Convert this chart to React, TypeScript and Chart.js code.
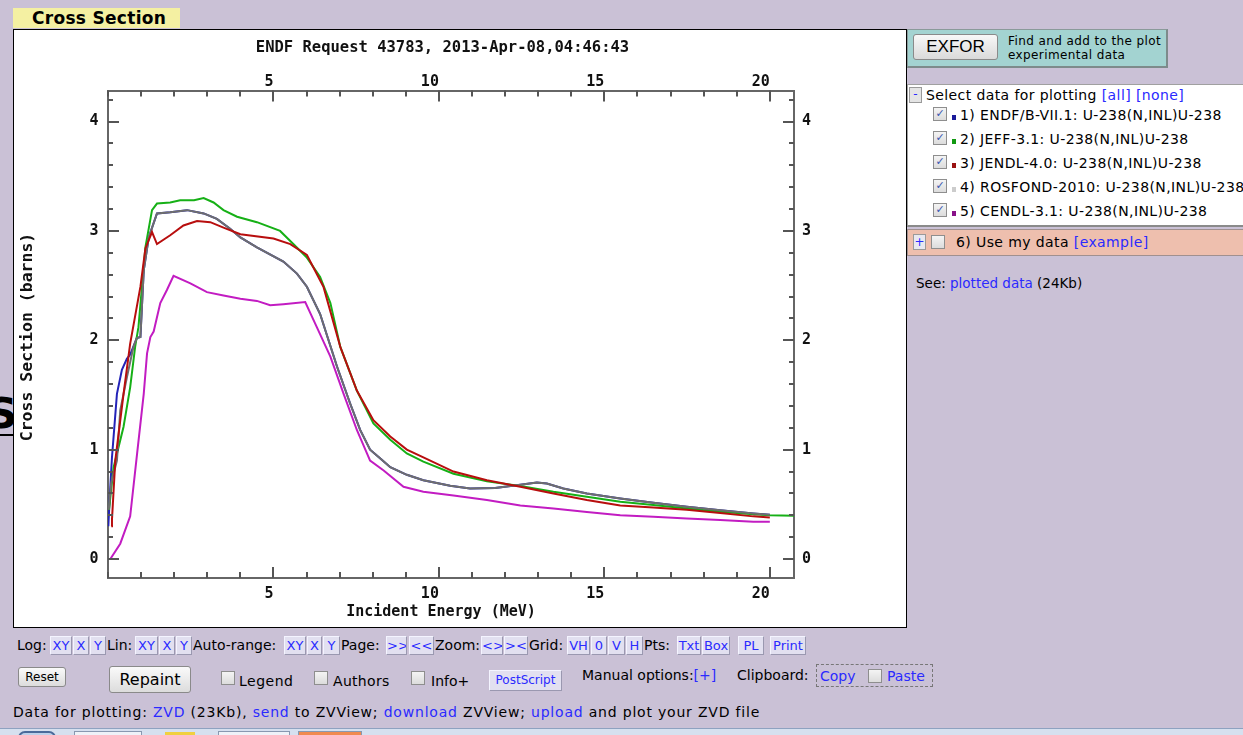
import React, { useEffect, useRef } from 'react';
import { Chart, registerables } from 'chart.js';

Chart.register(...registerables);

// ---------- data (energy in MeV, cross section in barns) ----------
const chartTitle = 'ENDF Request 43783, 2013-Apr-08,04:46:43';
const xTitle = 'Incident Energy (MeV)';
const yTitle = 'Cross Section (barns)';

const xTicks: number[] = [0, 1, 2, 3, 4, 5, 6, 7, 8, 9, 10, 11, 12, 13, 14, 15, 16, 17, 18, 19, 20];
const xLabels: number[] = [5, 10, 15, 20];
const yTicks: number[] = [0, 0.2, 0.4, 0.6, 0.8, 1, 1.2, 1.4, 1.6, 1.8, 2, 2.2, 2.4, 2.6, 2.8, 3, 3.2, 3.4, 3.6, 3.8, 4, 4.2];
const yLabels: number[] = [0, 1, 2, 3, 4];

const endfE = [0.01, 0.05, 0.12, 0.27, 0.42, 0.57, 0.67, 0.87, 0.98, 1.08, 1.23, 1.48, 1.88, 2.39, 2.89, 3.29, 3.69, 4.0, 4.5, 5.3, 5.71, 6.01, 6.41, 6.92, 7.32, 7.62, 7.92, 8.23, 8.53, 9.03, 9.53, 10.34, 10.94, 11.7, 12.46, 12.96, 13.26, 13.76, 14.47, 15.48, 16.48, 17.49, 18.5, 19.5, 20.0];
const endfXS = [0.3, 0.55, 0.93, 1.51, 1.73, 1.83, 1.87, 2.02, 2.03, 2.64, 2.94, 3.16, 3.17, 3.19, 3.16, 3.11, 3.02, 2.94, 2.85, 2.72, 2.61, 2.49, 2.24, 1.76, 1.42, 1.18, 1.0, 0.92, 0.84, 0.77, 0.72, 0.67, 0.645, 0.65, 0.68, 0.7, 0.69, 0.645, 0.6, 0.554, 0.514, 0.478, 0.447, 0.417, 0.405];

const jeffE = [0.03, 0.17, 0.47, 0.67, 0.82, 0.92, 1.13, 1.33, 1.48, 1.88, 2.18, 2.6, 2.89, 3.19, 3.49, 3.9, 4.5, 5.2, 5.6, 6.0, 6.41, 6.72, 7.02, 7.52, 8.02, 8.53, 9.03, 9.53, 10.44, 11.45, 12.46, 13.46, 14.47, 15.48, 16.48, 17.49, 18.5, 19.5, 20.0, 20.73];
const jeffXS = [0.45, 0.84, 1.21, 1.57, 1.94, 2.12, 2.85, 3.19, 3.25, 3.26, 3.28, 3.28, 3.3, 3.26, 3.19, 3.13, 3.08, 3.0, 2.88, 2.76, 2.58, 2.34, 1.94, 1.54, 1.24, 1.09, 0.965, 0.89, 0.78, 0.71, 0.667, 0.615, 0.57, 0.523, 0.493, 0.463, 0.432, 0.41, 0.4, 0.395];

const jendlE = [0.1, 0.12, 0.22, 0.47, 0.67, 0.98, 1.13, 1.33, 1.48, 1.88, 2.28, 2.69, 3.09, 3.49, 4.0, 5.0, 5.51, 6.01, 6.51, 7.02, 7.52, 8.02, 8.53, 9.03, 9.53, 10.44, 11.45, 12.46, 13.46, 14.47, 15.48, 16.48, 17.49, 18.5, 19.5, 20.0];
const jendlXS = [0.3, 0.36, 0.9, 1.51, 1.97, 2.49, 2.84, 2.99, 2.88, 2.96, 3.05, 3.09, 3.08, 3.03, 2.97, 2.93, 2.88, 2.78, 2.49, 1.94, 1.54, 1.27, 1.12, 1.0, 0.93, 0.8, 0.72, 0.66, 0.6, 0.54, 0.49, 0.47, 0.45, 0.42, 0.39, 0.38];

const rosfondE = [0.02, 0.1, 0.27, 0.37, 0.57, 0.77, 0.87, 0.98, 1.08, 1.23, 1.48, 1.88, 2.39, 2.89, 3.29, 3.69, 4.0, 4.5, 5.3, 5.71, 6.01, 6.41, 6.92, 7.32, 7.62, 7.92, 8.23, 8.53, 9.03, 9.53, 10.34, 10.94, 11.7, 12.46, 12.96, 13.26, 13.76, 14.47, 15.48, 16.48, 17.49, 18.5, 19.5, 20.0];
const rosfondXS = [0.45, 0.7, 0.9, 1.36, 1.66, 1.94, 2.02, 2.03, 2.64, 2.94, 3.16, 3.17, 3.19, 3.16, 3.11, 3.02, 2.94, 2.85, 2.72, 2.61, 2.49, 2.24, 1.76, 1.42, 1.18, 1.0, 0.92, 0.84, 0.77, 0.72, 0.67, 0.645, 0.65, 0.68, 0.7, 0.69, 0.645, 0.6, 0.554, 0.514, 0.478, 0.447, 0.417, 0.405];

const cendlE = [0.07, 0.37, 0.67, 0.88, 1.08, 1.18, 1.28, 1.38, 1.48, 1.58, 1.78, 1.98, 2.49, 2.99, 3.49, 4.0, 4.5, 4.9, 5.3, 5.96, 6.31, 6.72, 7.12, 7.52, 7.92, 8.33, 8.93, 9.53, 10.44, 11.45, 12.46, 13.46, 14.47, 15.48, 16.48, 17.49, 18.5, 19.5, 20.0];
const cendlXS = [0.0, 0.14, 0.39, 0.965, 1.51, 1.88, 2.03, 2.08, 2.21, 2.34, 2.46, 2.59, 2.52, 2.44, 2.41, 2.38, 2.36, 2.32, 2.33, 2.35, 2.12, 1.85, 1.51, 1.18, 0.9, 0.81, 0.66, 0.615, 0.58, 0.54, 0.49, 0.463, 0.43, 0.4, 0.386, 0.37, 0.356, 0.34, 0.34];

const seriesNames = [
  '1) ENDF/B-VII.1: U-238(N,INL)U-238',
  '2) JEFF-3.1: U-238(N,INL)U-238',
  '3) JENDL-4.0: U-238(N,INL)U-238',
  '4) ROSFOND-2010: U-238(N,INL)U-238',
  '5) CENDL-3.1: U-238(N,INL)U-238',
];
const swatchColors = ['#1a1a9a', '#119911', '#991111', '#cccccc', '#881188'];

const mk = (xs: number[], ys: number[]) => xs.map((x, i) => ({ x, y: ys[i] }));

const MONO = '"DejaVu Sans Mono", monospace';

const inwardTicks = {
  id: 'inwardTicks',
  afterDraw(chart: any) {
    const { ctx, chartArea: a, scales } = chart;
    ctx.save();
    ctx.strokeStyle = '#555';
    ctx.lineWidth = 2;
    ctx.beginPath();
    for (const v of xTicks) {
      const p = Math.round(scales.x.getPixelForValue(v));
      const len = xLabels.includes(v) ? 11 : 6;
      ctx.moveTo(p, a.top);
      ctx.lineTo(p, a.top + len);
      ctx.moveTo(p, a.bottom);
      ctx.lineTo(p, a.bottom - len);
    }
    for (const v of yTicks) {
      const p = Math.round(scales.y.getPixelForValue(v));
      const len = yLabels.includes(v) ? 11 : 5;
      ctx.moveTo(a.left, p);
      ctx.lineTo(a.left + len, p);
      ctx.moveTo(a.right, p);
      ctx.lineTo(a.right - len, p);
    }
    ctx.stroke();
    // axis titles
    ctx.fillStyle = '#111';
    ctx.textAlign = 'center';
    ctx.textBaseline = 'middle';
    ctx.font = 'bold 15px ' + MONO;
    ctx.fillText(xTitle, 427, 582);
    ctx.translate(14, 307);
    ctx.rotate(-Math.PI / 2);
    ctx.font = 'bold 16.5px ' + MONO;
    ctx.fillText(yTitle, 0, 0);
    ctx.restore();
  },
};

const tickFont = { family: MONO, size: 15, weight: 'bold' as const };

function makeX(position: string, h: number, pad: number) {
  return {
    type: 'linear',
    position,
    min: 0,
    max: 20.73,
    afterBuildTicks: (s: any) => {
      s.ticks = xTicks.map((value) => ({ value }));
    },
    afterFit: (s: any) => {
      s.height = h;
    },
    grid: { display: false, drawTicks: false },
    border: { display: true, color: '#666', width: 2 },
    ticks: {
      autoSkip: false,
      maxRotation: 0,
      minRotation: 0,
      align: 'end',
      padding: pad,
      color: '#111',
      font: tickFont,
      callback: (v: any) => (xLabels.includes(Number(v)) ? String(v) : ''),
    },
  };
}

function makeY(position: string, w: number, pad: number) {
  return {
    type: 'linear',
    position,
    min: -0.1735,
    max: 4.283,
    afterBuildTicks: (s: any) => {
      s.ticks = yTicks.map((value) => ({ value }));
    },
    afterFit: (s: any) => {
      s.width = w;
    },
    grid: { display: false, drawTicks: false },
    border: { display: true, color: '#666', width: 2 },
    ticks: {
      autoSkip: false,
      padding: pad,
      color: '#111',
      font: tickFont,
      callback: (v: any) => (yLabels.includes(Number(v)) ? String(v) : ''),
    },
  };
}

const LINK = '#2a2aff';

function Check({ checked, style }: { checked?: boolean; style?: any }) {
  return (
    <span
      style={{
        position: 'absolute',
        width: 12,
        height: 12,
        border: '1px solid #8e8e8e',
        background: 'linear-gradient(#f4f4f4,#dcdcdc)',
        color: '#3a55b0',
        fontSize: 11,
        lineHeight: '12px',
        textAlign: 'center',
        fontWeight: 'bold',
        ...style,
      }}
    >
      {checked ? '\u2713' : ''}
    </span>
  );
}

const abs = (left: number, top: number, extra: any = {}) => ({ position: 'absolute' as const, left, top, whiteSpace: 'nowrap' as const, ...extra });

const row1: [string, number, number, boolean][] = [
  ['Log:', 17, 0, false],
  ['XY', 50, 22, true],
  ['X', 73, 16, true],
  ['Y', 90, 16, true],
  ['Lin:', 107, 0, false],
  ['XY', 135, 23, true],
  ['X', 159, 16, true],
  ['Y', 176, 16, true],
  ['Auto-range:', 193, 0, false],
  ['XY', 284, 22, true],
  ['X', 307, 15, true],
  ['Y', 323, 17, true],
  ['Page:', 341, 0, false],
  ['>>', 386, 21, true],
  ['<<', 409, 25, true],
  ['Zoom:', 435, 0, false],
  ['<>', 481, 22, true],
  ['><', 504, 24, true],
  ['Grid:', 529, 0, false],
  ['VH', 567, 23, true],
  ['0', 591, 16, true],
  ['V', 608, 17, true],
  ['H', 626, 17, true],
  ['Pts:', 644, 0, false],
  ['Txt', 677, 24, true],
  ['Box', 702, 28, true],
  ['PL', 738, 26, true],
  ['Print', 770, 36, true],
];

const panelText = { fontSize: 14, letterSpacing: 0.4, lineHeight: '18px' };

export default function App() {
  const ref = useRef<HTMLCanvasElement>(null);

  useEffect(() => {
    const canvas = ref.current;
    if (!canvas) return;
    const chart = new Chart(canvas, {
      type: 'line',
      data: {
        datasets: [
          { label: seriesNames[0], data: mk(endfE, endfXS), borderColor: '#2323b8', order: 5 },
          { label: seriesNames[1], data: mk(jeffE, jeffXS), borderColor: '#16b016', order: 4 },
          { label: seriesNames[2], data: mk(jendlE, jendlXS), borderColor: '#b80e0e', order: 2 },
          { label: seriesNames[3], data: mk(rosfondE, rosfondXS), borderColor: '#6e6e6e', order: 3 },
          { label: seriesNames[4], data: mk(cendlE, cendlXS), borderColor: '#c21cc2', order: 1 },
        ],
      },
      options: {
        animation: false,
        responsive: false,
        devicePixelRatio: 1,
        layout: { padding: { left: 0, right: 35, top: 0, bottom: 0 } },
        elements: {
          point: { radius: 0 },
          line: { borderWidth: 2, tension: 0, fill: false },
        },
        plugins: {
          legend: { display: false },
          tooltip: { enabled: false },
          title: {
            display: true,
            text: chartTitle,
            color: '#111',
            font: { family: MONO, size: 15.5, weight: 'bold' },
            padding: { top: 9, bottom: 0 },
          },
        },
        scales: {
          x: makeX('bottom', 49, 7),
          x2: makeX('top', 33, -1),
          y: makeY('left', 94, 9.5),
          y2: makeY('right', 77, 8),
        } as any,
      },
      plugins: [inwardTicks],
    } as any);
    return () => chart.destroy();
  }, []);

  return (
    <div
      style={{
        position: 'fixed',
        left: 0,
        top: 0,
        width: 1243,
        height: 735,
        overflow: 'hidden',
        background: '#cac1d6',
        fontFamily: '"DejaVu Sans", Verdana, sans-serif',
        fontSize: 13,
        color: '#000',
      }}
    >
      {/* tab */}
      <div style={abs(13, 8, { width: 167, height: 20, background: '#f4f0a2' })}>
        <span style={abs(19, 0, { fontWeight: 'bold', fontSize: 17, letterSpacing: 0.3, lineHeight: '21px' })}>Cross Section</span>
      </div>

      {/* left artifact */}
      <div style={abs(-13, 392, { fontSize: 42, fontWeight: 'bold', lineHeight: '44px' })}>S</div>
      <div style={abs(0, 434, { width: 13, height: 2, background: '#000' })} />

      {/* chart box */}
      <div style={abs(13, 29, { width: 892, height: 597, border: '1px solid #000', background: '#fff' })}>
        <canvas ref={ref} width={892} height={597} style={{ display: 'block', width: 892, height: 597 }} />
      </div>

      {/* EXFOR box */}
      <div
        style={abs(907, 29, {
          width: 258,
          height: 36,
          background: '#a3d3d1',
          borderTop: '1px solid #8a9a9a',
          borderLeft: '1px solid #8a9a9a',
          borderRight: '2px solid #7d8b8b',
          borderBottom: '2px solid #7d8b8b',
        })}
      >
        <div
          style={abs(5, 4, {
            width: 85,
            height: 26,
            boxSizing: 'border-box',
            border: '1px solid #8a8a8a',
            borderRadius: 3,
            background: 'linear-gradient(#f8f8f8,#dadada)',
            fontFamily: '"Liberation Sans", Arial, sans-serif',
            fontSize: 17,
            lineHeight: '24px',
            textAlign: 'center',
          })}
        >
          EXFOR
        </div>
        <div style={abs(100, 4, { fontSize: 12, letterSpacing: 0.4, lineHeight: '14px' })}>
          Find and add to the plot
          <br />
          experimental data
        </div>
      </div>

      {/* select panel */}
      <div
        style={abs(907, 84, {
          width: 336,
          height: 140,
          background: '#fff',
          borderTop: '1px solid #a0a0a0',
          borderLeft: '1px solid #a0a0a0',
          borderBottom: '2px solid #8a8a8a',
        })}
      >
        <div
          style={abs(1, 2, {
            width: 11,
            height: 14,
            border: '1px solid #9a9a9a',
            background: '#e4e4e4',
            color: LINK,
            fontSize: 12,
            lineHeight: '13px',
            textAlign: 'center',
          })}
        >
          -
        </div>
        <div style={abs(18, 1, panelText)}>
          Select data for plotting <span style={{ color: LINK }}>[all]</span> <span style={{ color: LINK }}>[none]</span>
        </div>
        {seriesNames.map((n, i) => (
          <React.Fragment key={n}>
            <Check checked style={{ left: 25, top: 22 + i * 24 }} />
            <span style={abs(44, 30 + i * 24, { width: 4, height: 5, background: swatchColors[i] })} />
            <span style={abs(52, 21 + i * 24, panelText)}>{n}</span>
          </React.Fragment>
        ))}
      </div>

      {/* use my data row */}
      <div
        style={abs(907, 229, {
          width: 336,
          height: 25,
          background: '#eebfae',
          borderTop: '1px solid #a09090',
          borderLeft: '1px solid #a09090',
          borderBottom: '1px solid #a09090',
        })}
      >
        <div
          style={abs(5, 4, {
            width: 11,
            height: 14,
            border: '1px solid #9a9a9a',
            background: '#e8e8f0',
            color: LINK,
            fontSize: 12,
            lineHeight: '14px',
            textAlign: 'center',
          })}
        >
          +
        </div>
        <Check style={{ left: 23, top: 5 }} />
        <span style={abs(48, 3, panelText)}>
          6) Use my data <span style={{ color: LINK }}>[example]</span>
        </span>
      </div>

      <div style={abs(916, 274, { fontSize: 13.5, lineHeight: '18px' })}>
        See: <span style={{ color: LINK }}>plotted data</span> (24Kb)
      </div>

      {/* control row 1 */}
      {row1.map(([t, x, w, btn], i) =>
        btn ? (
          <div
            key={i}
            style={abs(x, 636, {
              width: w,
              height: 19,
              boxSizing: 'border-box',
              background: '#e2e0f0',
              borderTop: '1px solid #f4f4ff',
              borderLeft: '1px solid #f4f4ff',
              borderRight: '1px solid #9a98b0',
              borderBottom: '1px solid #9a98b0',
              color: LINK,
              fontSize: 13,
              lineHeight: '17px',
              textAlign: 'center',
              overflow: 'hidden',
            })}
          >
            {t}
          </div>
        ) : (
          <div key={i} style={abs(x, 636, { fontSize: 14, lineHeight: '19px' })}>
            {t}
          </div>
        )
      )}

      {/* control row 2 */}
      <div
        style={abs(18, 667, {
          width: 48,
          height: 20,
          boxSizing: 'border-box',
          border: '1px solid #8a8a8a',
          borderRadius: 3,
          background: 'linear-gradient(#fafafa,#dcdcdc)',
          fontSize: 12,
          lineHeight: '18px',
          textAlign: 'center',
        })}
      >
        Reset
      </div>
      <div
        style={abs(109, 666, {
          width: 82,
          height: 27,
          boxSizing: 'border-box',
          border: '1px solid #8a8a8a',
          borderRadius: 3,
          background: 'linear-gradient(#fafafa,#dcdcdc)',
          fontSize: 16,
          lineHeight: '25px',
          textAlign: 'center',
        })}
      >
        Repaint
      </div>
      <Check style={{ left: 221, top: 671 }} />
      <span style={abs(239, 672, { fontSize: 14, letterSpacing: 0.5, lineHeight: '18px' })}>Legend</span>
      <Check style={{ left: 314, top: 671 }} />
      <span style={abs(333, 672, { fontSize: 14, letterSpacing: 0.3, lineHeight: '18px' })}>Authors</span>
      <Check style={{ left: 411, top: 671 }} />
      <span style={abs(431, 672, { fontSize: 14, lineHeight: '18px' })}>Info+</span>
      <div
        style={abs(489, 670, {
          width: 73,
          height: 21,
          boxSizing: 'border-box',
          background: '#e2e0f0',
          borderTop: '1px solid #f4f4ff',
          borderLeft: '1px solid #f4f4ff',
          borderRight: '1px solid #9a98b0',
          borderBottom: '1px solid #9a98b0',
          color: LINK,
          fontSize: 12,
          lineHeight: '19px',
          textAlign: 'center',
        })}
      >
        PostScript
      </div>
      <span style={abs(582, 666, { fontSize: 14, lineHeight: '18px' })}>
        Manual options:<span style={{ color: LINK }}>[+]</span>
      </span>
      <span style={abs(737, 666, { fontSize: 14, lineHeight: '18px' })}>Clipboard:</span>
      <div style={abs(816, 664, { width: 115, height: 21, border: '1px dashed #777' })}>
        <span style={abs(3, 2, { fontSize: 14, lineHeight: '18px', color: LINK })}>Copy</span>
        <Check style={{ left: 51, top: 4 }} />
        <span style={abs(70, 2, { fontSize: 14, lineHeight: '18px', color: LINK })}>Paste</span>
      </div>

      {/* row 3 */}
      <div style={abs(13, 703, { fontSize: 14, letterSpacing: 0.8, lineHeight: '18px' })}>
        Data for plotting: <span style={{ color: LINK }}>ZVD</span> (23Kb), <span style={{ color: LINK }}>send</span> to ZVView;{' '}
        <span style={{ color: LINK }}>download</span> ZVView; <span style={{ color: LINK }}>upload</span> and plot your ZVD file
      </div>

      {/* taskbar strip */}
      <div style={abs(0, 728, { width: 1243, height: 7, background: '#d6e0ef', borderTop: '1px solid #8ea2c0' })}>
        <div style={abs(18, 2, { width: 34, height: 10, borderRadius: 17, border: '2px solid #4a6a9a', background: '#bcd0ea' })} />
        <div style={abs(74, 2, { width: 66, height: 10, border: '1px solid #8898b0', background: '#eef2f8' })} />
        <div style={abs(165, 3, { width: 30, height: 10, background: '#f0d040' })} />
        <div style={abs(218, 2, { width: 70, height: 10, border: '1px solid #8898b0', background: '#eef2f8' })} />
        <div style={abs(298, 2, { width: 62, height: 10, border: '1px solid #8898b0', background: '#f08a50' })} />
      </div>
    </div>
  );
}
